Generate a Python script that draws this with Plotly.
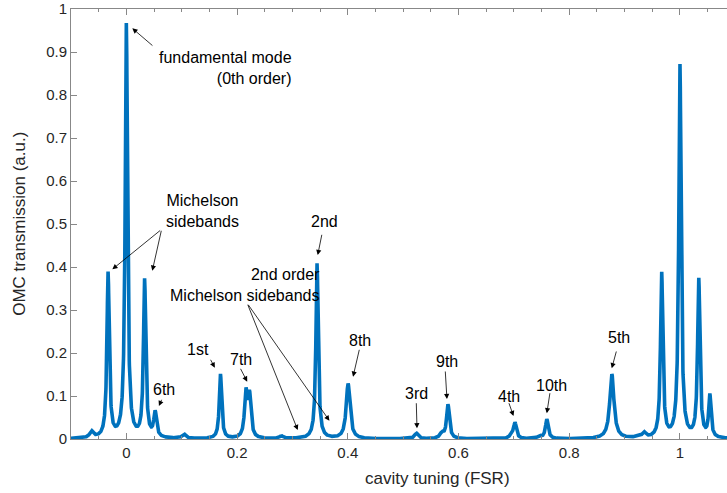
import numpy as np
import plotly.graph_objects as go

# ---- data ----
peak_pos = [-0.063, -0.033, 0.0, 0.033, 0.052, 0.104, 0.170, 0.216, 0.2225, 0.280,
            0.3445, 0.4005, 0.524, 0.570, 0.581, 0.696, 0.702, 0.746, 0.7595, 0.877,
            0.922, 0.935, 0.967, 1.0, 1.034, 1.054]
peak_height = [0.015, 0.383, 0.963, 0.366, 0.058, 0.010, 0.150, 0.102, 0.095, 0.006,
               0.408, 0.128, 0.013, 0.012, 0.079, 0.008, 0.036, 0.006, 0.045, 0.150,
               0.004, 0.012, 0.383, 0.868, 0.368, 0.098]
peak_hwhm = [0.004, 0.0025, 0.0025, 0.0025, 0.003, 0.004, 0.0025, 0.003, 0.003, 0.004,
             0.0025, 0.004, 0.004, 0.004, 0.003, 0.004, 0.003, 0.004, 0.003, 0.0045,
             0.004, 0.004, 0.0025, 0.0025, 0.0025, 0.0025]

x_ticks = [0, 0.2, 0.4, 0.6, 0.8, 1]
x_ticklabels = ["0", "0.2", "0.4", "0.6", "0.8", "1"]
y_ticks = [0, 0.1, 0.2, 0.3, 0.4, 0.5, 0.6, 0.7, 0.8, 0.9, 1]
y_ticklabels = ["0", "0.1", "0.2", "0.3", "0.4", "0.5", "0.6", "0.7", "0.8", "0.9", "1"]

# annotation labels: text, x, y, xanchor, align
labels = [
    ("fundamental mode<br>(0th order)", 0.302, 0.863, "right", "right"),
    ("Michelson<br>sidebands", 0.1376, 0.531, "center", "center"),
    ("6th", 0.0678, 0.1156, "center", "center"),
    ("1st", 0.1295, 0.2086, "center", "center"),
    ("7th", 0.2077, 0.186, "center", "center"),
    ("2nd", 0.3587, 0.5053, "center", "center"),
    ("2nd order<br>Michelson sidebands", 0.3541, 0.357, "right", "right"),
    ("8th", 0.4227, 0.2302, "center", "center"),
    ("3rd", 0.525, 0.1047, "center", "center"),
    ("9th", 0.5797, 0.1798, "center", "center"),
    ("4th", 0.691, 0.100, "center", "center"),
    ("10th", 0.7673, 0.1233, "center", "center"),
    ("5th", 0.8896, 0.2365, "center", "center"),
]
# arrows: tail x, tail y, head x, head y
arrows = [
    (0.0498, 0.912, 0.0108, 0.955),
    (0.0637, 0.4877, -0.0253, 0.3947),
    (0.0637, 0.4877, 0.0469, 0.3914),
    (0.0649, 0.0947, 0.0588, 0.0767),
    (0.1508, 0.1877, 0.1598, 0.1658),
    (0.2049, 0.1667, 0.2183, 0.1333),
    (0.3536, 0.4784, 0.3457, 0.4279),
    (0.2183, 0.3156, 0.3096, 0.0209),
    (0.2183, 0.3156, 0.3668, 0.0426),
    (0.4214, 0.2109, 0.4095, 0.1449),
    (0.5237, 0.0867, 0.5250, 0.0249),
    (0.5760, 0.1605, 0.5791, 0.0930),
    (0.6902, 0.0867, 0.6993, 0.0535),
    (0.7655, 0.1100, 0.7595, 0.0598),
    (0.8858, 0.2070, 0.8768, 0.1644),
]

# ---- curve: sum of cavity resonances (Lorentzians) ----
x = np.linspace(-0.1, 1.085, 6000)
y = np.zeros_like(x)
for p, h, g in zip(peak_pos, peak_height, peak_hwhm):
    y += h / (1 + ((x - p) / g) ** 2)

FONT = "Liberation Sans, Arial, Helvetica, sans-serif"

fig = go.Figure()
fig.add_trace(go.Scatter(x=x, y=y, mode="lines",
                         line=dict(color="#0072BD", width=3.6), showlegend=False,
                         hoverinfo="skip"))

annotations = []
for t, ax_, ay_, xa, al in labels:
    annotations.append(dict(x=ax_, y=ay_, xref="x", yref="y", text=t, showarrow=False,
                            xanchor=xa, yanchor="middle", align=al,
                            font=dict(family=FONT, size=16, color="#000000")))
for tx, ty, hx, hy in arrows:
    annotations.append(dict(x=hx, y=hy, ax=tx, ay=ty, xref="x", yref="y",
                            axref="x", ayref="y", text="", showarrow=True,
                            arrowhead=2, arrowsize=1.3, arrowwidth=0.8,
                            arrowcolor="#000000", standoff=0, startstandoff=0))
# axis titles
annotations.append(dict(x=0.5585, y=-0.093, xref="paper", yref="paper",
                        text="cavity tuning (FSR)", showarrow=False,
                        xanchor="center", yanchor="middle",
                        font=dict(family=FONT, size=17, color="#262626")))
annotations.append(dict(x=-0.0795, y=0.5, xref="paper", yref="paper",
                        text="OMC transmission (a.u.)", showarrow=False, textangle=-90,
                        xanchor="center", yanchor="middle",
                        font=dict(family=FONT, size=17, color="#262626")))

fig.update_layout(
    width=727, height=493,
    margin=dict(l=71, r=0, t=9, b=54),
    paper_bgcolor="white", plot_bgcolor="white",
    font=dict(family=FONT, size=15, color="#262626"),
    annotations=annotations,
    xaxis=dict(range=[-0.1, 1.085], tickvals=x_ticks, ticktext=x_ticklabels,
               ticks="inside", ticklen=6, tickwidth=1, tickcolor="#888888",
               showline=True, linecolor="#888888", linewidth=1, mirror="ticks",
               showgrid=False, zeroline=False,
               minor=dict(dtick=0.05, tick0=0, ticks="inside", ticklen=3,
                          tickcolor="#888888", showgrid=False),
               tickfont=dict(family=FONT, size=15, color="#262626")),
    yaxis=dict(range=[0, 1], tickvals=y_ticks, ticktext=y_ticklabels,
               ticks="inside", ticklen=6, tickwidth=1, tickcolor="#888888",
               showline=True, linecolor="#888888", linewidth=1, mirror=False,
               showgrid=False, zeroline=False,
               tickfont=dict(family=FONT, size=15, color="#262626")),
)

fig.write_html("out.html", config={"displayModeBar": False},
               post_script="document.body.style.margin='0';document.body.style.overflow='hidden';")
